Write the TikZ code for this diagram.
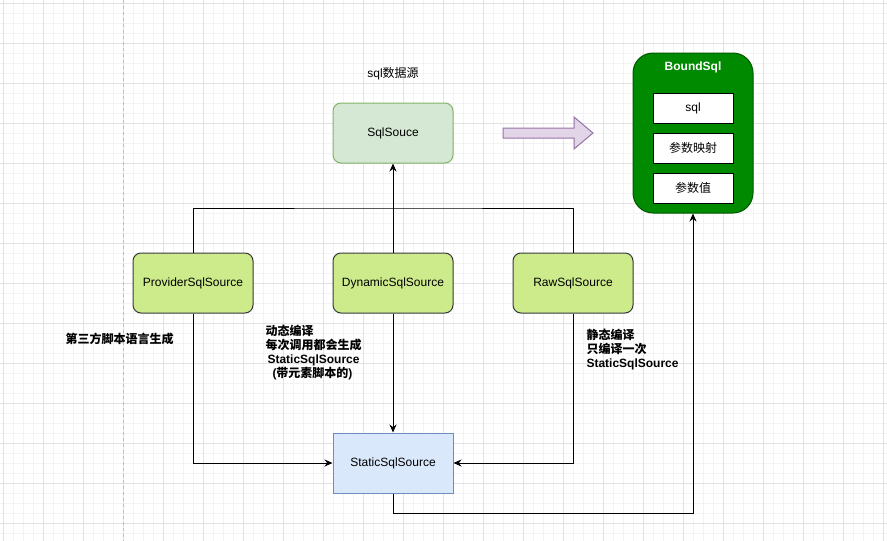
\documentclass[tikz,border=0pt]{standalone}
\usepackage{fontspec}
\setmainfont{Liberation Sans}
\newfontfamily\cjk{Noto Sans CJK SC}
\usetikzlibrary{arrows.meta}
\definecolor{gridminor}{HTML}{F3F3F3}
\definecolor{gridmajor}{HTML}{E2E2E2}
\definecolor{pageline}{HTML}{BDBDBD}
\definecolor{rootfill}{HTML}{D5E8D4}
\definecolor{rootline}{HTML}{82B366}
\definecolor{kidfill}{HTML}{CDEB8B}
\definecolor{kidline}{HTML}{36393D}
\definecolor{staticfill}{HTML}{DAE8FC}
\definecolor{staticline}{HTML}{6C8EBF}
\definecolor{arrowfill}{HTML}{E1D5E7}
\definecolor{arrowline}{HTML}{9673A6}
\definecolor{boundfill}{HTML}{008A00}
\definecolor{boundline}{HTML}{005700}
\tikzset{
  txt/.style={font=\fontsize{12}{14}\selectfont},
  note/.style={font=\fontsize{12}{14}\selectfont\bfseries, align=left, inner sep=0pt},
  srcbox/.style={txt, draw=kidline, fill=kidfill, rounded corners=8pt, minimum width=120pt, minimum height=60pt},
  rootbox/.style={srcbox, draw=rootline, fill=rootfill},
  staticbox/.style={srcbox, draw=staticline, fill=staticfill, rounded corners=0pt},
  fieldbox/.style={txt, draw=black, fill=white, minimum width=80pt, minimum height=30pt}
}
\begin{document}
\begin{tikzpicture}[x=1pt, y=-1pt, line width=1pt, >={Stealth[length=8pt,width=7pt]}]
    \useasboundingbox (0,0) rectangle (887,541);
    % grid
    \fill[white] (0,0) rectangle (887,541);
    \begin{scope}[shift={(3,3)}, line width=0.8pt]
        \draw[gridminor] (-10,-10) grid[step=10pt] (890,545);
        \draw[gridmajor] (-40,-40) grid[step=40pt] (890,545);
    \end{scope}
    \draw[pageline, dashed] (123,0) -- (123,541);

    \node[rootbox] (sqlsrc) at (393,133) {SqlSouce};
    \node[txt, inner sep=0pt] (sqlsrctitle) at (393,74) {sql{\cjk 数据源}};
    \node[srcbox] (prov) at (193,283) {ProviderSqlSource};
    \node[srcbox] (dyn) at (393,283) {DynamicSqlSource};
    \node[srcbox] (raw) at (573,283) {RawSqlSource};
    \node[staticbox] (static) at (393,463) {StaticSqlSource};

    \node[note, anchor=north west] (provnote) at (65,333) {\cjk 第三方脚本语言生成};
    \node[note, anchor=north west] (dynnote) at (265,325) {{\cjk 动态编译}\\{\cjk 每次调用都会生成}\\\hspace*{2pt}StaticSqlSource\\\hspace*{7pt}({\cjk 带元素脚本的})};
    \node[note, anchor=north west] (rawnote) at (586,329) {{\cjk 静态编译}\\{\cjk 只编译一次}\\StaticSqlSource};

    % BoundSql
    \node[draw=boundline, fill=boundfill, rounded corners=20pt, minimum width=120pt, minimum height=160pt] (bound) at (693,133) {};
    \node[txt, font=\fontsize{12}{14}\selectfont\bfseries, text=white] (boundtitle) at (693,67) {BoundSql};
    \node[fieldbox] (fsql) at (693,108) {sql};
    \node[fieldbox] (fmap) at (693,148) {\cjk 参数映射};
    \node[fieldbox] (fval) at (693,188) {\cjk 参数值};

    \draw[arrowline, fill=arrowfill] (503,128) -- (574,128) -- (574,117) -- (593,133) -- (574,149) -- (574,138) -- (503,138) -- cycle;

    \coordinate (join) at (393,208);
    \draw (prov.north) |- (join) -| (raw.north);
    \draw[->] (dyn.north) -- (sqlsrc.south);
    \draw[->] (prov.south) |- (static.west);
    \draw[->] (raw.south) |- (static.east);
    \draw[->] (dyn.south) -- (static.north);
    \draw[->] (static.south) -- ++(0,20) -| (bound.south);
\end{tikzpicture}
\end{document}
